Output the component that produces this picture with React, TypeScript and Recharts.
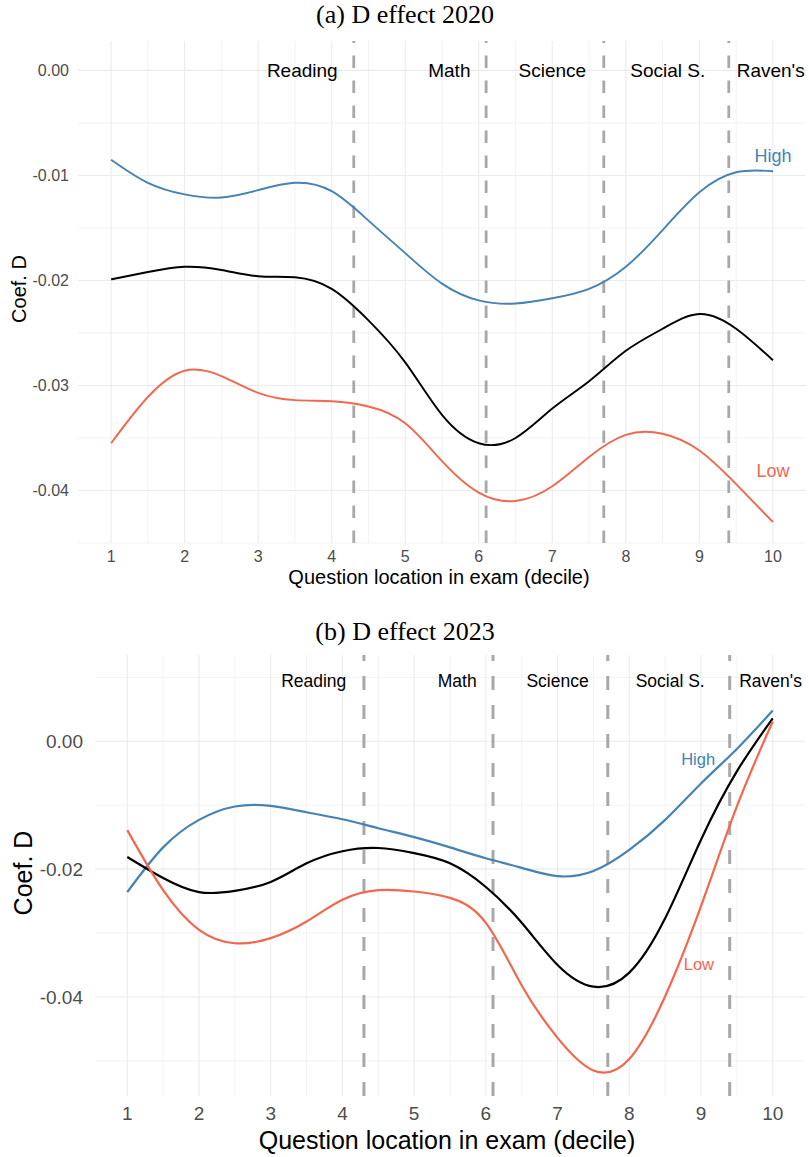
import React from "react";
import {
  LineChart,
  Line,
  XAxis,
  YAxis,
  CartesianGrid,
  ReferenceLine,
  ReferenceDot,
} from "recharts";

const FONT = "'Liberation Sans', Arial, Helvetica, sans-serif";
const SERIF = "'Liberation Serif', 'Times New Roman', serif";

const HIGH_COLOR = "#4682B4";
const LOW_COLOR = "#F2674E";
const ALL_COLOR = "#000000";
const DASH_COLOR = "#A8A8A8";
const GRID_COLOR = "#EBEBEB";
const TICK_COLOR = "#4D4D4D";

const DECILES = [1, 1.5, 2, 2.5, 3, 3.5, 4, 4.5, 5, 5.5, 6, 6.5, 7, 7.5, 8, 8.5, 9, 9.5, 10];
const X_TICKS = [1, 2, 3, 4, 5, 6, 7, 8, 9, 10];
const X_MINOR = [1.5, 2.5, 3.5, 4.5, 5.5, 6.5, 7.5, 8.5, 9.5];

// exam sections
const SECTION_BREAKS = [4.3, 6.1, 7.7, 9.4];
const SECTIONS = ["Reading", "Math", "Science", "Social S.", "Raven's"];
const SECTION_X = [3.6, 5.6, 7.0, 8.57, 9.97];

// (a) 2020
const HIGH_2020 = [-0.0085, -0.0107, -0.0118, -0.0121, -0.0114, -0.0107, -0.0115, -0.0143, -0.0174, -0.0203, -0.0219, -0.0222, -0.0217, -0.0208, -0.0187, -0.0152, -0.0116, -0.0097, -0.0096];
const ALL_2020 = [-0.0199, -0.0192, -0.0187, -0.019, -0.0196, -0.0197, -0.0208, -0.0238, -0.0278, -0.0328, -0.0355, -0.035, -0.0322, -0.0296, -0.0267, -0.0246, -0.0232, -0.0246, -0.0276];
const LOW_2020 = [-0.0355, -0.0311, -0.0286, -0.0291, -0.0307, -0.0314, -0.0315, -0.032, -0.0336, -0.0372, -0.0402, -0.041, -0.0396, -0.0368, -0.0347, -0.0346, -0.0362, -0.0394, -0.043];
const Y_TICKS_2020 = [0, -0.01, -0.02, -0.03, -0.04];
const Y_MINOR_2020 = [-0.005, -0.015, -0.025, -0.035, -0.045];

// (b) 2023
const HIGH_2023 = [-0.0236, -0.0166, -0.0123, -0.0102, -0.0101, -0.0111, -0.0122, -0.0136, -0.015, -0.0166, -0.0183, -0.0198, -0.0211, -0.0203, -0.017, -0.0123, -0.0066, -0.0012, 0.0048];
const ALL_2023 = [-0.0181, -0.0214, -0.0236, -0.0234, -0.022, -0.0191, -0.0172, -0.0167, -0.0175, -0.0191, -0.0228, -0.0284, -0.035, -0.0384, -0.0362, -0.0277, -0.0154, -0.0047, 0.0036];
const LOW_2023 = [-0.0139, -0.0233, -0.0295, -0.0316, -0.0308, -0.0282, -0.0248, -0.0233, -0.0235, -0.0245, -0.0284, -0.0382, -0.0464, -0.0515, -0.0497, -0.0399, -0.0258, -0.0102, 0.0031];
const Y_TICKS_2023 = [0, -0.02, -0.04];
const Y_MINOR_2023 = [0.01, -0.01, -0.03, -0.05];

// group label anchors [x, y]
const HIGH_LABEL_2020 = [10.0, -0.0081];
const LOW_LABEL_2020 = [10.0, -0.0381];
const HIGH_LABEL_2023 = [8.96, -0.0028];
const LOW_LABEL_2023 = [8.97, -0.0349];

const rows = (high: number[], all: number[], low: number[]) =>
  DECILES.map((x, i) => ({ x, high: high[i], all: all[i], low: low[i] }));

function Txt({
  x,
  y,
  size,
  children,
  rotate,
  family,
}: {
  x: number;
  y: number;
  size: number;
  children: React.ReactNode;
  rotate?: boolean;
  family?: string;
}) {
  return (
    <div
      style={{
        position: "absolute",
        left: x,
        top: y,
        transform: `translate(-50%, -50%)${rotate ? " rotate(-90deg)" : ""}`,
        fontSize: size,
        fontFamily: family ?? FONT,
        color: "#000",
        whiteSpace: "nowrap",
        lineHeight: 1,
      }}
    >
      {children}
    </div>
  );
}

type PanelProps = {
  top: number;
  height: number;
  data: { x: number; high: number; all: number; low: number }[];
  yDomain: [number, number];
  yTicks: number[];
  yMinor: number[];
  marginTop: number;
  marginRight: number;
  yAxisWidth: number;
  xAxisHeight: number;
  tickSize: number;
  xTickMargin: number;
  yTickMargin: number;
  sectionY: number;
  sectionSize: number;
  groupSize: number;
  highAt: number[];
  lowAt: number[];
  lineWidth: number;
  dashWidth: number;
  dash: string;
};

function Panel(p: PanelProps) {
  const tick = { fontSize: p.tickSize, fill: TICK_COLOR, fontFamily: FONT };
  return (
    <div style={{ position: "absolute", left: 0, top: p.top, width: 809, height: p.height }}>
      <LineChart
        width={809}
        height={p.height}
        data={p.data}
        margin={{ top: p.marginTop, right: p.marginRight, bottom: 0, left: 0 }}
      >
        <CartesianGrid stroke={GRID_COLOR} strokeWidth={0.6} verticalValues={X_MINOR} horizontalValues={p.yMinor} />
        <CartesianGrid stroke={GRID_COLOR} strokeWidth={1.1} verticalValues={X_TICKS} horizontalValues={p.yTicks} />
        <XAxis
          dataKey="x"
          type="number"
          domain={[0.55, 10.45]}
          ticks={X_TICKS}
          interval={0}
          allowDataOverflow
          height={p.xAxisHeight}
          axisLine={false}
          tickLine={false}
          tickSize={0}
          tickMargin={p.xTickMargin}
          tick={tick}
        />
        <YAxis
          type="number"
          domain={p.yDomain}
          ticks={p.yTicks}
          interval={0}
          allowDataOverflow
          width={p.yAxisWidth}
          axisLine={false}
          tickLine={false}
          tickSize={0}
          tickMargin={p.yTickMargin}
          tick={tick}
          tickFormatter={(v: number) => v.toFixed(2)}
        />
        {SECTION_BREAKS.map((b) => (
          <ReferenceLine
            key={b}
            x={b}
            stroke={DASH_COLOR}
            strokeWidth={p.dashWidth}
            strokeDasharray={p.dash}
          />
        ))}
        <Line type="natural" dataKey="high" stroke={HIGH_COLOR} strokeWidth={p.lineWidth} dot={false} isAnimationActive={false} />
        <Line type="natural" dataKey="all" stroke={ALL_COLOR} strokeWidth={p.lineWidth} dot={false} isAnimationActive={false} />
        <Line type="natural" dataKey="low" stroke={LOW_COLOR} strokeWidth={p.lineWidth} dot={false} isAnimationActive={false} />
        {SECTIONS.map((s, i) => (
          <ReferenceDot
            key={s}
            x={SECTION_X[i]}
            y={p.sectionY}
            r={0.5}
            fill="none"
            stroke="none"
            label={{ value: s, position: "center", fontSize: p.sectionSize, fill: "#000", fontFamily: FONT }}
          />
        ))}
        <ReferenceDot
          x={p.highAt[0]}
          y={p.highAt[1]}
          r={0.5}
          fill="none"
          stroke="none"
          label={{ value: "High", position: "center", fontSize: p.groupSize, fill: HIGH_COLOR, fontFamily: FONT }}
        />
        <ReferenceDot
          x={p.lowAt[0]}
          y={p.lowAt[1]}
          r={0.5}
          fill="none"
          stroke="none"
          label={{ value: "Low", position: "center", fontSize: p.groupSize, fill: LOW_COLOR, fontFamily: FONT }}
        />
      </LineChart>
    </div>
  );
}

export default function App() {
  return (
    <div style={{ position: "absolute", left: 0, top: 0, width: 809, height: 1157, background: "#fff" }}>
      <Panel
        top={0}
        height={600}
        data={rows(HIGH_2020, ALL_2020, LOW_2020)}
        yDomain={[-0.045, 0.0028]}
        yTicks={Y_TICKS_2020}
        yMinor={Y_MINOR_2020}
        marginTop={41}
        marginRight={3}
        yAxisWidth={78}
        xAxisHeight={57}
        tickSize={16}
        xTickMargin={8}
        yTickMargin={9}
        sectionY={0}
        sectionSize={19}
        groupSize={18}
        highAt={HIGH_LABEL_2020}
        lowAt={LOW_LABEL_2020}
        lineWidth={1.9}
        dashWidth={2.8}
        dash="12.5 12.5"
      />
      <Panel
        top={600}
        height={557}
        data={rows(HIGH_2023, ALL_2023, LOW_2023)}
        yDomain={[-0.0555, 0.0135]}
        yTicks={Y_TICKS_2023}
        yMinor={Y_MINOR_2023}
        marginTop={55}
        marginRight={4}
        yAxisWidth={95}
        xAxisHeight={61}
        tickSize={19}
        xTickMargin={11}
        yTickMargin={12}
        sectionY={0.0095}
        sectionSize={17.5}
        groupSize={16.5}
        highAt={HIGH_LABEL_2023}
        lowAt={LOW_LABEL_2023}
        lineWidth={2.2}
        dashWidth={3}
        dash="14 15"
      />
      <Txt x={405} y={15} size={26} family={SERIF}>(a) D effect 2020</Txt>
      <Txt x={19} y={289} size={20} rotate>Coef. D</Txt>
      <Txt x={439} y={577} size={20}>Question location in exam (decile)</Txt>
      <Txt x={405} y={632} size={26} family={SERIF}>(b) D effect 2023</Txt>
      <Txt x={23} y={873} size={25} rotate>Coef. D</Txt>
      <Txt x={447} y={1140} size={25}>Question location in exam (decile)</Txt>
    </div>
  );
}
